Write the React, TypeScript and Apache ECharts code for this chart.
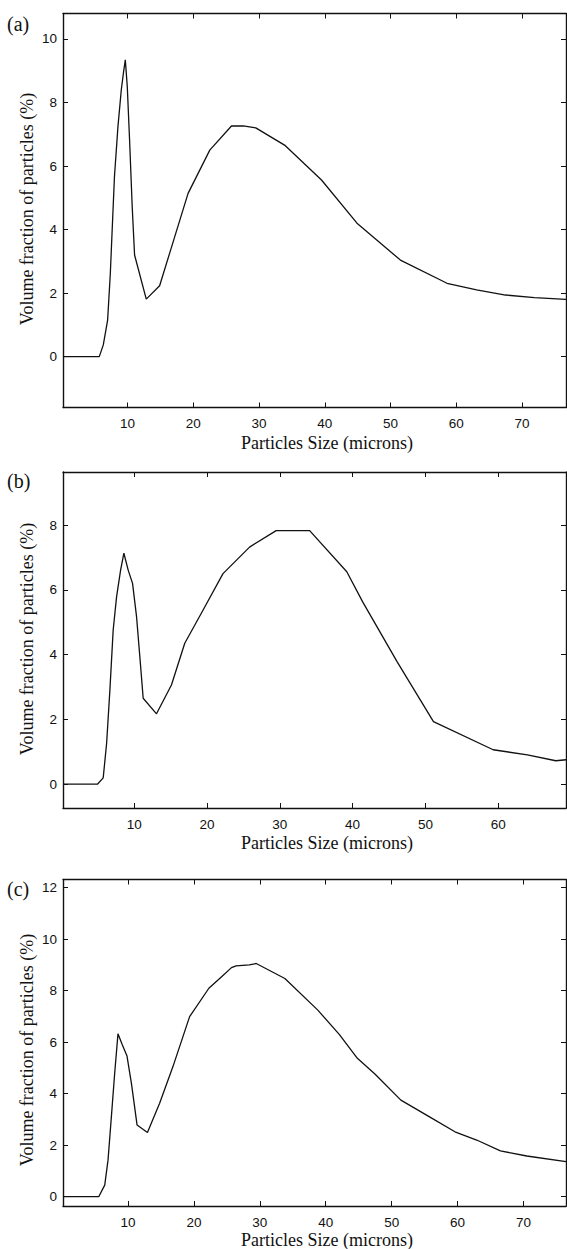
import React, { useEffect, useRef } from "react";
import * as echarts from "echarts";

// Panel (a)
const sizesA = [0.17, 5.69, 6.3, 6.96, 7.37, 8.0, 8.53, 9.04, 9.39, 9.65, 9.95, 10.3, 10.7, 11.06, 12.84, 14.87, 16.4, 19.2, 22.5, 25.8, 27.6, 29.5, 34.0, 39.5, 44.9, 51.5, 58.6, 63.1, 67.5, 71.9, 76.7];
const volA = [0, 0, 0.37, 1.15, 2.62, 5.67, 7.24, 8.4, 8.97, 9.34, 8.5, 6.82, 4.72, 3.2, 1.81, 2.23, 3.26, 5.14, 6.5, 7.26, 7.26, 7.2, 6.64, 5.56, 4.2, 3.04, 2.31, 2.1, 1.94, 1.86, 1.8];

// Panel (b)
const sizesB = [0.23, 4.99, 5.75, 6.22, 6.67, 7.12, 7.59, 8.14, 8.59, 9.18, 9.78, 10.33, 10.78, 11.24, 13.07, 15.12, 16.95, 19.45, 22.2, 25.85, 29.5, 34.1, 39.2, 41.4, 46.1, 51.1, 59.3, 64.0, 67.9, 69.3];
const volB = [0, 0, 0.19, 1.26, 2.91, 4.76, 5.79, 6.61, 7.13, 6.61, 6.2, 5.17, 3.94, 2.65, 2.17, 3.06, 4.35, 5.37, 6.5, 7.32, 7.83, 7.83, 6.56, 5.62, 3.78, 1.93, 1.06, 0.9, 0.72, 0.75];

// Panel (c)
const sizesC = [0.14, 5.56, 6.47, 6.97, 7.48, 7.98, 8.48, 9.15, 9.85, 10.52, 11.38, 12.95, 14.8, 16.82, 19.35, 22.27, 24.2, 25.7, 26.4, 28.4, 29.45, 33.8, 38.8, 42.05, 44.8, 47.5, 51.4, 55.75, 59.6, 62.9, 66.5, 70.5, 76.45];
const volC = [0, 0, 0.45, 1.42, 3.11, 4.79, 6.32, 5.89, 5.46, 4.4, 2.78, 2.49, 3.63, 5.05, 6.99, 8.09, 8.54, 8.89, 8.96, 9.0, 9.05, 8.47, 7.24, 6.3, 5.37, 4.75, 3.75, 3.1, 2.52, 2.2, 1.78, 1.58, 1.36];

// Axis ranges and ticks
const xRangeA = [0.17, 76.7];
const xRangeB = [0.23, 69.3];
const xRangeC = [0.14, 76.45];
const yRangeA = [-1.6, 10.8];
const yRangeB = [-0.74, 9.64];
const yRangeC = [-0.36, 12.31];
const xTicksA = [10, 20, 30, 40, 50, 60, 70];
const xTicksB = [10, 20, 30, 40, 50, 60];
const xTicksC = [10, 20, 30, 40, 50, 60, 70];
const yTicksA = [0, 2, 4, 6, 8, 10];
const yTicksB = [0, 2, 4, 6, 8];
const yTicksC = [0, 2, 4, 6, 8, 10, 12];

const panelLabels = ["(a)", "(b)", "(c)"];
const xTitle = "Particles Size (microns)";
const yTitle = "Volume fraction of particles (%)";

const panels = [
  { xs: sizesA, ys: volA, xr: xRangeA, yr: yRangeA, xt: xTicksA, yt: yTicksA },
  { xs: sizesB, ys: volB, xr: xRangeB, yr: yRangeB, xt: xTicksB, yt: yTicksB },
  { xs: sizesC, ys: volC, xr: xRangeC, yr: yRangeC, xt: xTicksC, yt: yTicksC },
];

// layout (pixels)
const grids = [
  { left: 63, top: 13.5, width: 503, height: 394 },
  { left: 63, top: 472, width: 503, height: 336 },
  { left: 63, top: 879.5, width: 503, height: 326.5 },
];
const xTitleY = [443, 843, 1240];
const yTitleY = [209, 639, 1050];
const panelLabelY = [25, 482, 890];

const axisLineStyle = { color: "#111", width: 1.4 };
const tickFont = { fontFamily: "Liberation Sans, Arial, sans-serif", fontSize: 13.5, color: "#111" };
const serif = "Liberation Serif, Times New Roman, serif";

export default function App() {
  const ref = useRef<HTMLDivElement>(null);
  useEffect(() => {
    if (!ref.current) return;
    const chart = echarts.init(ref.current, undefined, { renderer: "svg" });
    const xAxis: any[] = [];
    const yAxis: any[] = [];
    const series: any[] = [];
    const graphic: any[] = [];
    panels.forEach((p, i) => {
      const tick = { show: true, inside: true, length: 5, customValues: p.xt, lineStyle: { color: "#111", width: 1 } };
      const ytick = { show: true, inside: true, length: 5, customValues: p.yt, lineStyle: { color: "#111", width: 1 } };
      xAxis.push({
        type: "value", gridIndex: i, position: "bottom", min: p.xr[0], max: p.xr[1],
        axisLine: { show: true, onZero: false, lineStyle: axisLineStyle },
        axisTick: tick,
        axisLabel: { show: true, customValues: p.xt, margin: 9, ...tickFont },
        splitLine: { show: false },
      });
      xAxis.push({
        type: "value", gridIndex: i, position: "top", min: p.xr[0], max: p.xr[1],
        axisLine: { show: true, onZero: false, lineStyle: axisLineStyle },
        axisTick: tick,
        axisLabel: { show: false },
        splitLine: { show: false },
      });
      yAxis.push({
        type: "value", gridIndex: i, position: "left", min: p.yr[0], max: p.yr[1],
        axisLine: { show: true, onZero: false, lineStyle: axisLineStyle },
        axisTick: ytick,
        axisLabel: { show: true, customValues: p.yt, margin: 6, ...tickFont },
        splitLine: { show: false },
      });
      yAxis.push({
        type: "value", gridIndex: i, position: "right", min: p.yr[0], max: p.yr[1],
        axisLine: { show: true, onZero: false, lineStyle: axisLineStyle },
        axisTick: ytick,
        axisLabel: { show: false },
        splitLine: { show: false },
      });
      series.push({
        type: "line",
        xAxisIndex: i * 2,
        yAxisIndex: i * 2,
        data: p.xs.map((x, k) => [x, p.ys[k]]),
        showSymbol: false,
        symbol: "none",
        lineStyle: { color: "#111", width: 1.3 },
        clip: true,
      });
      graphic.push({
        type: "text", left: 7, top: panelLabelY[i] - 11,
        style: { text: panelLabels[i], fontFamily: serif, fontSize: 20, fill: "#111" },
      });
      graphic.push({
        type: "text", x: 327, y: xTitleY[i],
        style: { text: xTitle, fontFamily: serif, fontSize: 18, fill: "#111", align: "center", verticalAlign: "middle" },
      });
      graphic.push({
        type: "text", x: 27, y: yTitleY[i], rotation: Math.PI / 2,
        style: { text: yTitle, fontFamily: serif, fontSize: 18, fill: "#111", align: "center", verticalAlign: "middle" },
      });
    });
    chart.setOption({
      animation: false,
      backgroundColor: "#fff",
      grid: grids.map((g) => ({ ...g, containLabel: false })),
      xAxis,
      yAxis,
      series,
      graphic,
    });
    return () => chart.dispose();
  }, []);
  return (
    <div
      ref={ref}
      style={{ position: "absolute", left: 0, top: 0, width: 567, height: 1249, background: "#fff" }}
    />
  );
}
